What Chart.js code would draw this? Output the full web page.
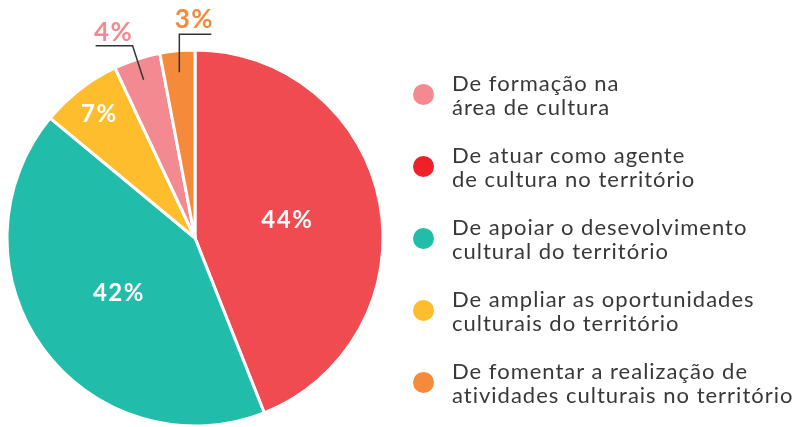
<!DOCTYPE html>
<html>
<head>
<meta charset="utf-8">
<script src="https://cdn.jsdelivr.net/npm/chart.js@4.4.1/dist/chart.umd.min.js"></script>
<style>
  html, body { margin: 0; padding: 0; background: #fff; }
  #wrap { position: relative; width: 802px; height: 427px; overflow: hidden; }
  #c { position: absolute; left: 0; top: 0; }
  .item { position: absolute; left: 413px; width: 389px; height: 48px; }
  .dot { position: absolute; left: 0; top: 13px; width: 21px; height: 21px; border-radius: 50%; }
  .txt { position: absolute; left: 39px; top: 0; font-family: Lato, "Open Sans", sans-serif; font-size: 22px; line-height: 24px; letter-spacing: 1px; color: #383838; white-space: nowrap; }
</style>
</head>
<body>
<div id="wrap">
  <canvas id="c" width="802" height="427"></canvas>
  <div id="legend"></div>
</div>
<script>
// Slice order (clockwise from 12 o'clock)
const categories = [
  'De atuar como agente de cultura no território',
  'De apoiar o desevolvimento cultural do território',
  'De ampliar as oportunidades culturais do território',
  'De formação na área de cultura',
  'De fomentar a realização de atividades culturais no território'
];
const values = [44, 42, 7, 4, 3];
const valueLabels = ['44%', '42%', '7%', '4%', '3%'];
const sliceColors = ['#EF4B50', '#22BDAA', '#FDBD2C', '#F48A91', '#F58A3A'];
const legendColors = ['#EE2129', '#22BDAA', '#FDBD2C', '#F48A91', '#F58A3A'];
const legendLines = [
  ['De atuar como agente', 'de cultura no território'],
  ['De apoiar o desevolvimento', 'cultural do território'],
  ['De ampliar as oportunidades', 'culturais do território'],
  ['De formação na', 'área de cultura'],
  ['De fomentar a realização de', 'atividades culturais no território']
];
const legendOrder = [3, 0, 1, 2, 4];

// Legend (HTML, built from arrays)
const legend = document.getElementById('legend');
legendOrder.forEach((idx, k) => {
  const it = document.createElement('div');
  it.className = 'item';
  it.style.top = (94 + k * 72 - 23.5) + 'px';
  const d = document.createElement('div');
  d.className = 'dot';
  d.style.background = legendColors[idx];
  const t = document.createElement('div');
  t.className = 'txt';
  t.innerHTML = legendLines[idx].join('<br>');
  it.appendChild(d); it.appendChild(t);
  legend.appendChild(it);
});

// label placement style per slice
const labelStyle = [
  { type: 'inside', r: 0.5, size: 24 },
  { type: 'inside', r: 0.5, size: 24 },
  { type: 'inside', r: 0.83, size: 24 },
  { type: 'leader', r: 0.885, size: 26, elbow: [-11, -34], end: [-48, -34], text: [-30, -39] },
  { type: 'leader', r: 0.885, size: 26, elbow: [0, -38], end: [32, -38], text: [15, -44] }
];

const labelPlugin = {
  id: 'sliceLabels',
  afterDatasetsDraw(chart) {
    const ctx = chart.ctx;
    const meta = chart.getDatasetMeta(0);
    meta.data.forEach((arc, i) => {
      const p = arc.getProps(['x', 'y', 'startAngle', 'endAngle', 'outerRadius'], true);
      const mid = (p.startAngle + p.endAngle) / 2;
      const st = labelStyle[i];
      const ax = p.x + Math.cos(mid) * p.outerRadius * st.r;
      const ay = p.y + Math.sin(mid) * p.outerRadius * st.r;
      ctx.save();
      ctx.font = 'bold ' + st.size + 'px Lato, "Open Sans", sans-serif';
      if ('letterSpacing' in ctx) ctx.letterSpacing = '1.5px';
      ctx.textAlign = 'center';
      if (st.type === 'inside') {
        ctx.fillStyle = '#ffffff';
        ctx.textBaseline = 'middle';
        ctx.fillText(valueLabels[i], ax, ay);
      } else {
        ctx.strokeStyle = '#333';
        ctx.lineWidth = 1.5;
        ctx.beginPath();
        ctx.moveTo(ax, ay);
        ctx.lineTo(ax + st.elbow[0], ay + st.elbow[1]);
        ctx.lineTo(ax + st.end[0], ay + st.end[1]);
        ctx.stroke();
        ctx.fillStyle = sliceColors[i];
        ctx.textBaseline = 'alphabetic';
        ctx.fillText(valueLabels[i], ax + st.text[0], ay + st.text[1]);
      }
      ctx.restore();
    });
  }
};

new Chart(document.getElementById('c'), {
  type: 'pie',
  data: {
    labels: categories,
    datasets: [{
      data: values,
      backgroundColor: sliceColors,
      borderColor: '#ffffff',
      borderWidth: 3
    }]
  },
  options: {
    responsive: false,
    animation: false,
    radius: 188,
    layout: { padding: { left: 0, right: 412, top: 49, bottom: 0 } },
    plugins: { legend: { display: false }, tooltip: { enabled: false } }
  },
  plugins: [labelPlugin]
});
</script>
</body>
</html>
